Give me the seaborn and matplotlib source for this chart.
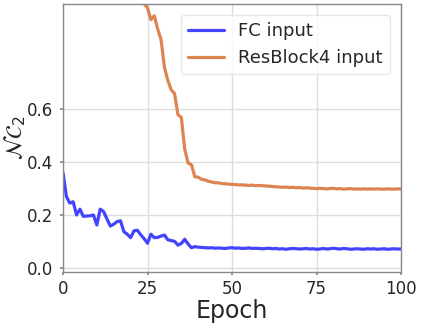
import numpy as np
import pandas as pd
import seaborn as sns
import matplotlib
matplotlib.use("Agg")
import matplotlib.pyplot as plt

epochs = list(range(0, 101))

fc_input = [
    0.360, 0.270, 0.245, 0.250, 0.200, 0.222, 0.195, 0.196, 0.197, 0.200,
    0.162, 0.222, 0.213, 0.185, 0.158, 0.165, 0.175, 0.178, 0.137, 0.127,
    0.114, 0.140, 0.142, 0.125, 0.110, 0.093, 0.127, 0.114, 0.115, 0.120,
    0.124, 0.106, 0.103, 0.100, 0.086, 0.092, 0.108, 0.090, 0.076, 0.080,
    0.078, 0.077, 0.076, 0.075, 0.076, 0.074, 0.075, 0.074, 0.073, 0.075,
    0.076, 0.074, 0.075, 0.073, 0.074, 0.075, 0.073, 0.074, 0.073, 0.072,
    0.073, 0.074, 0.072, 0.073, 0.071, 0.072, 0.070, 0.072, 0.073, 0.072,
    0.071, 0.072, 0.073, 0.071, 0.072, 0.070, 0.071, 0.073, 0.071, 0.072,
    0.074, 0.072, 0.071, 0.073, 0.072, 0.070, 0.071, 0.072, 0.071, 0.070,
    0.072, 0.071, 0.072, 0.070, 0.071, 0.072, 0.070, 0.071, 0.072, 0.071,
    0.071,
]

resblock4_input = [
    1.900, 1.850, 1.800, 1.760, 1.720, 1.680, 1.640, 1.600, 1.560, 1.520,
    1.480, 1.440, 1.400, 1.370, 1.340, 1.310, 1.280, 1.250, 1.220, 1.190,
    1.160, 1.120, 1.080, 1.040, 1.000, 0.985, 0.940, 0.955, 0.905, 0.865,
    0.760, 0.710, 0.675, 0.660, 0.580, 0.570, 0.450, 0.397, 0.390, 0.345,
    0.343, 0.335, 0.333, 0.328, 0.325, 0.322, 0.322, 0.319, 0.318, 0.317,
    0.316, 0.315, 0.314, 0.314, 0.313, 0.312, 0.313, 0.311, 0.312, 0.311,
    0.310, 0.309, 0.308, 0.307, 0.306, 0.305, 0.306, 0.304, 0.305, 0.303,
    0.304, 0.302, 0.303, 0.302, 0.301, 0.300, 0.301, 0.300, 0.299, 0.300,
    0.301, 0.299, 0.300, 0.298, 0.299, 0.300, 0.298, 0.299, 0.298, 0.299,
    0.298, 0.299, 0.298, 0.299, 0.298, 0.298, 0.299, 0.298, 0.298, 0.299,
    0.298,
]

series_names = ["FC input", "ResBlock4 input"]
series_colors = ["#4444ff", "#dd8452"]

x_ticks = [0, 25, 50, 75, 100]
y_ticks = [0.0, 0.2, 0.4, 0.6]

df = pd.DataFrame({
    "Epoch": epochs * 2,
    "value": fc_input + resblock4_input,
    "series": [series_names[0]] * len(epochs) + [series_names[1]] * len(epochs),
})

sns.set_theme(style="whitegrid")
plt.rcParams["font.family"] = ["DejaVu Sans"]

fig = plt.figure(figsize=(4.23, 3.25), dpi=100)
ax = fig.add_axes([0.149, 0.164, 0.799, 0.824])

sns.lineplot(data=df, x="Epoch", y="value", hue="series", palette=series_colors,
             linewidth=2.3, ax=ax)

ax.set_xlim(0, 100)
ax.set_ylim(-0.015, 1.0)
ax.set_xticks(x_ticks)
ax.set_yticks(y_ticks)
ax.set_yticklabels([f"{v:.1f}" for v in y_ticks])
ax.tick_params(axis="both", labelsize=12, length=2.5, color="#888888",
               left=True, bottom=True)
ax.tick_params(axis="y", pad=4.5)
ax.tick_params(axis="x", pad=3.5)
ax.grid(True, color="#dddddd", linewidth=1.0)
for s in ax.spines.values():
    s.set_color("#888888")
    s.set_linewidth(1.0)

ax.set_xlabel("Epoch", fontsize=17, labelpad=1)
ax.set_ylabel(r"$\mathcal{NC}_2$", fontsize=16)
ax.yaxis.set_label_coords(-0.105, 0.5)

leg = ax.legend(loc="upper right", fontsize=13, frameon=True,
                handlelength=2.0, borderaxespad=0.6)
leg.get_frame().set_edgecolor("#e0e0e0")
for line in leg.get_lines():
    line.set_linewidth(2.3)

fig.savefig("out.png", dpi=100)
